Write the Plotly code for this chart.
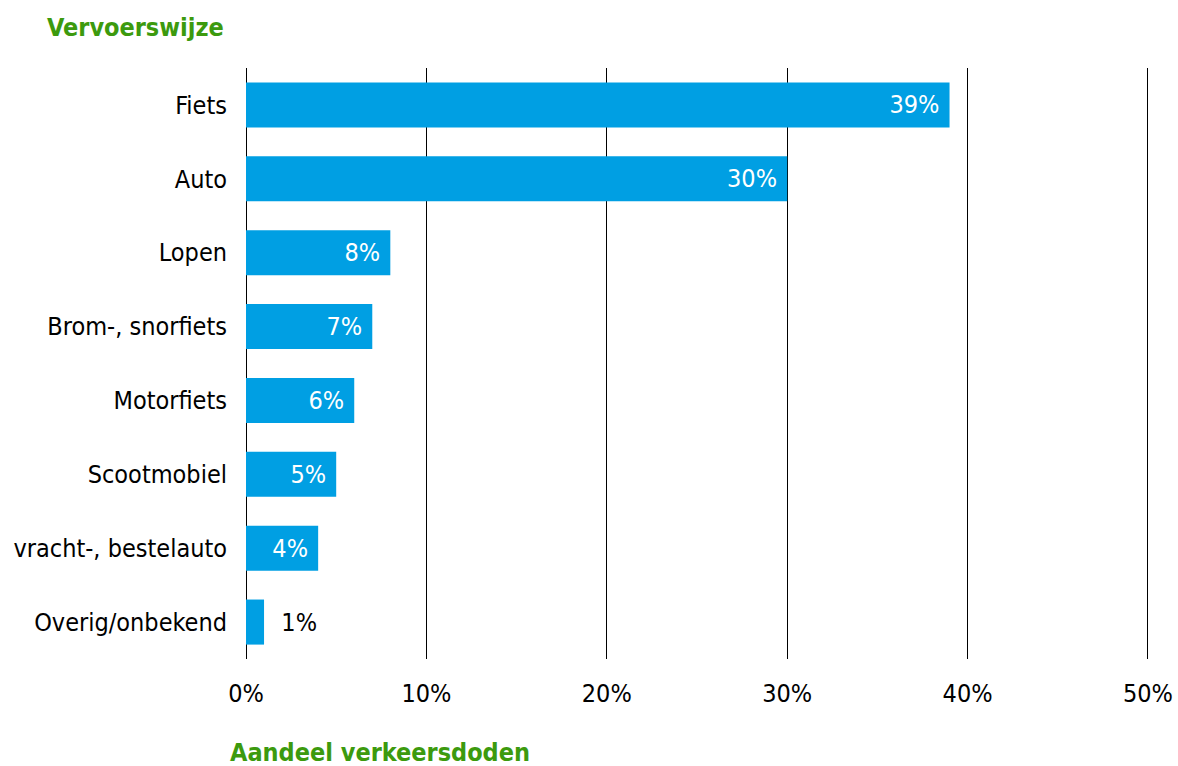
import plotly.graph_objects as go

categories = ["Fiets", "Auto", "Lopen", "Brom-, snorfiets", "Motorfiets",
              "Scootmobiel", "vracht-, bestelauto", "Overig/onbekend"]
values = [39, 30, 8, 7, 6, 5, 4, 1]
labels = ["39%", "30%", "8%", "7%", "6%", "5%", "4%", "1%"]
tick_vals = [0, 10, 20, 30, 40, 50]
tick_text = ["0%", "10%", "20%", "30%", "40%", "50%"]

FONT = "DejaVu Sans Condensed, Liberation Sans Narrow, sans-serif"
BLUE = "#009fe3"
GREEN = "#3c9a0e"

W, H = 1178, 766
XMAX = 50.5
ML, MT, MB = 246, 68, 107
PW = round(902 * XMAX / 50)
MR = W - ML - PW
PH = H - MT - MB

positions = ["inside" if v >= 3 else "outside" for v in values]
text_colors = ["white" if p == "inside" else "black" for p in positions]
shown = [t + " " if p == "inside" else "  " + t for t, p in zip(labels, positions)]

fig = go.Figure(go.Bar(
    x=values, y=categories, orientation="h",
    marker=dict(color=BLUE, line=dict(width=0)),
    width=0.61,
    text=shown, textposition=positions,
    insidetextanchor="end",
    textfont=dict(family=FONT, size=25, color=text_colors),
    cliponaxis=False,
    hoverinfo="skip",
))

fig.update_layout(
    width=W, height=H,
    margin=dict(l=ML, r=MR, t=MT, b=MB, autoexpand=False),
    paper_bgcolor="white", plot_bgcolor="white",
    font=dict(family=FONT, size=25, color="black"),
    showlegend=False,
)
fig.add_annotation(text="<b>Vervoerswijze</b>", xref="paper", yref="paper",
                   x=(226 - ML) / PW, y=1 + (MT - 28) / PH,
                   xanchor="right", yanchor="middle", showarrow=False,
                   font=dict(family=FONT, size=25, color=GREEN))
fig.add_annotation(text="<b>Aandeel verkeersdoden</b>", xref="paper", yref="paper",
                   x=(228 - ML) / PW, y=-(752 - (H - MB)) / PH,
                   xanchor="left", yanchor="middle", showarrow=False,
                   font=dict(family=FONT, size=25, color=GREEN))

fig.update_xaxes(range=[0, XMAX], tickvals=tick_vals, ticktext=tick_text,
                 showgrid=True, gridcolor="black", gridwidth=1,
                 zeroline=True, zerolinecolor="black", zerolinewidth=1,
                 showline=False, ticks="", ticklabelstandoff=17, automargin=False,
                 tickfont=dict(family=FONT, size=25, color="black"), fixedrange=True)
fig.update_yaxes(autorange="reversed", showgrid=False, showline=False, ticks="",
                 ticklabelstandoff=18, automargin=False,
                 tickfont=dict(family=FONT, size=25, color="black"), fixedrange=True)

fig.write_html("out.html", config={"displayModeBar": False},
               post_script="document.body.style.margin='0';document.body.style.overflow='hidden';")
